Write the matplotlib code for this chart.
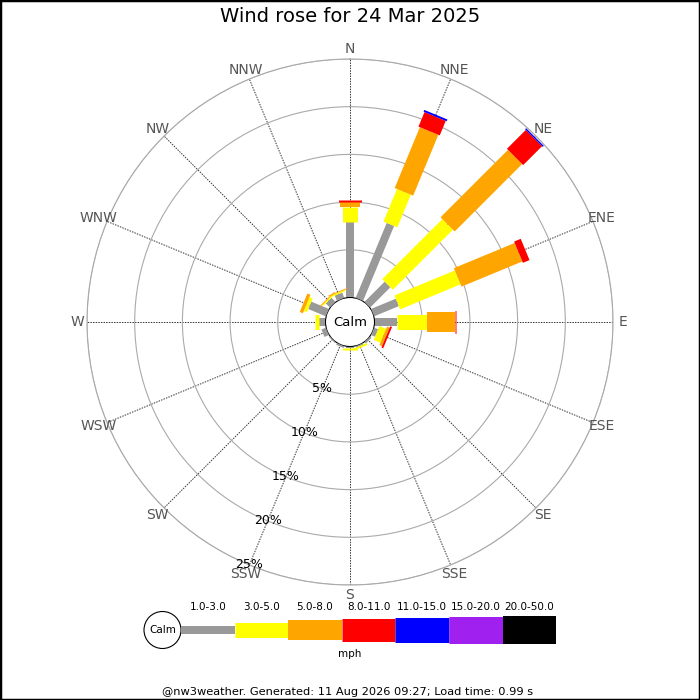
import numpy as np
import matplotlib
matplotlib.use("Agg")
import matplotlib.pyplot as plt
from matplotlib.patches import Circle, Rectangle

# --------------------------
# Data (percent of observations per direction and speed band)
# --------------------------
directions = ["N", "NNE", "NE", "ENE", "E", "ESE", "SE", "SSE",
              "S", "SSW", "SW", "WSW", "W", "WNW", "NW", "NNW"]
speed_bands = ["1.0-3.0", "3.0-5.0", "5.0-8.0", "8.0-11.0",
               "11.0-15.0", "15.0-20.0", "20.0-50.0"]
band_colors = ["#999999", "#ffff00", "#ffa500", "#ff0000",
               "#0000ff", "#a020f0", "#000000"]

gray_pct   = [7.9, 8.5, 3.0, 2.8, 2.4, 0.45, 0.2, 0.15, 0.15, 0.2, 0.1, 0.5, 0.65, 2.0, 0.6, 0.6]
yellow_pct = [1.6, 3.7, 8.9, 6.85, 3.1, 0.75, 0.0, 0.2, 0.2, 0.0, 0.0, 0.0, 0.4, 0.35, 0.15, 0.15]
orange_pct = [0.5, 6.9, 10.0, 6.9, 2.95, 0.3, 0.0, 0.0, 0.0, 0.0, 0.0, 0.0, 0.0, 0.35, 0.1, 0.1]
red_pct    = [0.2, 1.65, 2.8, 0.75, 0.1, 0.2, 0.0, 0.0, 0.0, 0.0, 0.0, 0.0, 0.0, 0.0, 0.0, 0.0]
blue_pct   = [0.0, 0.2, 0.15, 0.0, 0.0, 0.0, 0.0, 0.0, 0.0, 0.0, 0.0, 0.0, 0.0, 0.0, 0.0, 0.0]
purple_pct = [0.0] * 16
black_pct  = [0.0] * 16

ring_pct = [5, 10, 15, 20, 25]

title = "Wind rose for 24 Mar 2025"
footer = "@nw3weather. Generated: 11 Aug 2026 09:27; Load time: 0.99 s"

# --------------------------
# Figure setup
# --------------------------
fig = plt.figure(figsize=(7, 7), dpi=100)
px = 0.72  # points per pixel at dpi 100
band_widths = np.array([8, 15, 20, 23, 25, 27, 28]) * px

# overlay axes in pixel coordinates, for legend and footer
ov = fig.add_axes([0, 0, 1, 1])
ov.set_xlim(0, 700)
ov.set_ylim(700, 0)
ov.axis("off")

ax = fig.add_axes([87 / 700, 115 / 700, 526 / 700, 526 / 700], projection="polar")
ax.set_theta_zero_location("N")
ax.set_theta_direction(-1)
ax.set_rlim(0, 25)
ax.set_rorigin(-2.57)

angles = np.radians(np.arange(16) * 22.5)
ax.set_xticks(angles)
ax.set_xticklabels([])
ax.set_yticks(ring_pct)
ax.set_yticklabels([])
ax.xaxis.grid(True, color="#333333", linestyle=(0, (1.5, 1.2)), linewidth=0.7)
ax.yaxis.grid(True, color="#aaaaaa", linestyle="-", linewidth=0.8)
ax.spines["polar"].set_edgecolor("#aaaaaa")
ax.spines["polar"].set_linewidth(0.8)
if "inner" in ax.spines:
    ax.spines["inner"].set_edgecolor("black")
    ax.spines["inner"].set_linewidth(0.8)

# stacked bars as thick butt-capped lines
bands = [gray_pct, yellow_pct, orange_pct, red_pct, blue_pct, purple_pct, black_pct]
base = np.zeros(16)
for vals, col, w in zip(bands, band_colors, band_widths):
    vals = np.array(vals)
    for th, r0, v in zip(angles, base, vals):
        if v > 0:
            ax.plot([th, th], [r0, r0 + v], color=col, lw=w,
                    solid_capstyle="butt", clip_on=False, zorder=3)
    base = base + vals

# direction labels
for th, name in zip(angles, directions):
    ax.text(th, 26.0, name, ha="center", va="center", fontsize=10,
            color="#555555", clip_on=False)

# ring labels along SSW
for r in ring_pct:
    ax.text(np.radians(202.5), r, f"{r}%", ha="center", va="center",
            fontsize=9, color="black", zorder=4)

ax.text(0.5, 0.5, "Calm", transform=ax.transAxes, ha="center", va="center",
        fontsize=9.5)

fig.text(0.5, 1 - 17 / 700, title, ha="center", va="center", fontsize=14)

# --------------------------
# Legend
# --------------------------
leg_x0, leg_step, leg_y = 181, 53.6, 630
ov.add_patch(Circle((162.5, leg_y), 18.5, facecolor="white", edgecolor="black", lw=0.8))
ov.text(162.5, leg_y, "Calm", ha="center", va="center", fontsize=7.5)
for i, (lab, col, w) in enumerate(zip(speed_bands, band_colors, band_widths)):
    x0 = leg_x0 + i * leg_step
    ov.plot([x0, x0 + leg_step], [leg_y, leg_y], color=col, lw=w, solid_capstyle="butt")
    ov.text(x0 + leg_step / 2, 607, lab, ha="center", va="center", fontsize=7.5)
ov.text(350, 654, "mph", ha="center", va="center", fontsize=7.5)
ov.text(348, 692, footer, ha="center", va="center", fontsize=8.2)

fig.add_artist(Rectangle((0, 0), 1, 1, transform=fig.transFigure, fill=False,
                         edgecolor="black", lw=2.5))

fig.savefig("out.png", dpi=100)
